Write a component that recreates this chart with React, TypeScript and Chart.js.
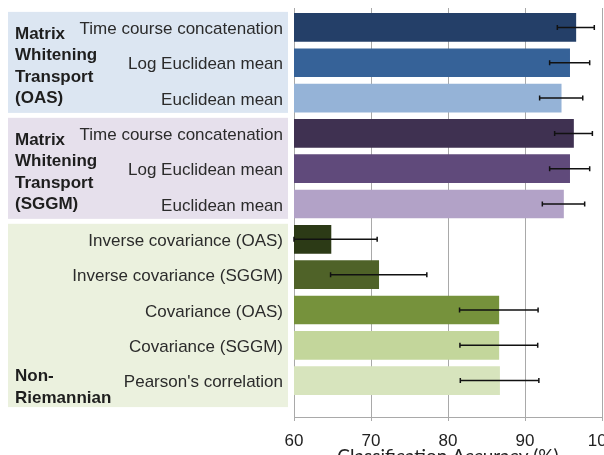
import React, { useEffect, useRef } from "react";
import { Chart, registerables } from "chart.js";

Chart.register(...registerables);

const categories = [
  "Time course concatenation",
  "Log Euclidean mean",
  "Euclidean mean",
  "Time course concatenation",
  "Log Euclidean mean",
  "Euclidean mean",
  "Inverse covariance (OAS)",
  "Inverse covariance (SGGM)",
  "Covariance (OAS)",
  "Covariance (SGGM)",
  "Pearson's correlation",
];
const accuracy = [96.6, 95.8, 94.7, 96.3, 95.8, 95.0, 64.8, 71.0, 86.6, 86.6, 86.7];
const errors = [2.4, 2.6, 2.8, 2.45, 2.6, 2.75, 6.0, 6.25, 5.1, 5.05, 5.1];
const barColors = [
  "#243f68", "#366298", "#95b3d7",
  "#3f3151", "#604a7b", "#b2a2c7",
  "#2c3a16", "#4f6228", "#76923c", "#c3d69b", "#d7e4bd",
];
const xTicks = [60, 70, 80, 90, 100];
const groupNames = [
  ["Matrix", "Whitening", "Transport", "(OAS)"],
  ["Matrix", "Whitening", "Transport", "(SGGM)"],
  ["Non-", "Riemannian"],
];
const groupFirst = [0, 3, 6];
const groupLast = [2, 5, 10];
const groupFill = ["#dce6f2", "#e6e0ec", "#ebf1de"];

const FONT = "'Liberation Sans', Arial, sans-serif";

const panelPlugin = {
  id: "panels",
  beforeDraw(chart: any) {
    const ctx = chart.ctx;
    const y = chart.scales.y;
    ctx.save();
    groupFirst.forEach((first, g) => {
      const top = y.getPixelForValue(first - 0.44);
      const bottom = g === 2 ? y.getPixelForValue(groupLast[g] + 0.75) : y.getPixelForValue(groupLast[g] + 0.42);
      ctx.fillStyle = groupFill[g];
      ctx.fillRect(8, top, 280, bottom - top);
    });
    ctx.restore();
  },
  afterDraw(chart: any) {
    const ctx = chart.ctx;
    const y = chart.scales.y;
    ctx.save();
    ctx.font = `bold 17px ${FONT}`;
    ctx.fillStyle = "#1e1e1e";
    ctx.textAlign = "left";
    ctx.textBaseline = "middle";
    groupNames.forEach((lines, g) => {
      if (g < 2) {
        const top = y.getPixelForValue(groupFirst[g] - 0.44);
        lines.forEach((t, k) => ctx.fillText(t, 15, top + 22 + k * 21.5));
      } else {
        const base = y.getPixelForValue(groupLast[g]) + 17.5;
        lines.forEach((t, k) => ctx.fillText(t, 15, base - (lines.length - 1 - k) * 21.5));
      }
    });
    ctx.restore();
  },
};

const errorBarPlugin = {
  id: "errorBars",
  afterDatasetsDraw(chart: any) {
    const ctx = chart.ctx;
    const xs = chart.scales.x;
    const ys = chart.scales.y;
    ctx.save();
    ctx.strokeStyle = "#111";
    ctx.lineWidth = 1.5;
    accuracy.forEach((v, i) => {
      const lo = Math.max(xs.min, v - errors[i]);
      const hi = v + errors[i];
      const x1 = xs.getPixelForValue(lo);
      const x2 = xs.getPixelForValue(hi);
      const yy = ys.getPixelForValue(i);
      ctx.beginPath();
      ctx.moveTo(x1, yy);
      ctx.lineTo(x2, yy);
      ctx.moveTo(x1, yy - 2.5);
      ctx.lineTo(x1, yy + 2.5);
      ctx.moveTo(x2, yy - 2.5);
      ctx.lineTo(x2, yy + 2.5);
      ctx.stroke();
    });
    ctx.restore();
  },
};

export default function App() {
  const ref = useRef<HTMLCanvasElement | null>(null);
  useEffect(() => {
    if (!ref.current) return;
    const chart = new Chart(ref.current, {
      type: "bar",
      data: {
        datasets: [
          {
            data: accuracy.map((v, i) => ({ x: v, y: i })),
            backgroundColor: barColors,
            borderWidth: 0,
            barThickness: 28,
          },
        ],
      },
      options: {
        indexAxis: "y",
        responsive: false,
        animation: false,
        layout: { padding: { top: 8, right: 2, left: 0, bottom: 0 } },
        plugins: { legend: { display: false }, tooltip: { enabled: false } },
        scales: {
          x: {
            type: "linear",
            position: "bottom",
            min: 60,
            max: 100,
            offset: false,
            afterBuildTicks: (s: any) => {
              s.ticks = xTicks.map((v) => ({ value: v }));
            },
            afterFit: (s: any) => {
              s.height = 63;
              s.paddingLeft = 0;
              s.paddingRight = 0;
            },
            grid: { color: "#a9a9a9", lineWidth: 1, tickLength: 4 },
            border: { color: "#a9a9a9", width: 1 },
            ticks: {
              font: { family: FONT, size: 17 },
              color: "#222",
              padding: 10,
              maxRotation: 0,
            },
            title: {
              display: true,
              text: "Classification Accuracy (%)",
              font: { family: "Lato, 'Liberation Sans', sans-serif", size: 19 },
              color: "#222",
              padding: { top: 0, bottom: 12 },
            },
          },
          y: {
            type: "linear",
            reverse: true,
            offset: false,
            min: -0.55,
            max: 11.03,
            afterBuildTicks: (s: any) => {
              s.ticks = categories.map((_, i) => ({ value: i }));
            },
            afterFit: (s: any) => {
              s.width = 294;
              s.paddingTop = 0;
              s.paddingBottom = 0;
            },
            grid: { display: false, drawTicks: false, offset: false },
            border: { display: true, color: "#a9a9a9", width: 1 },
            ticks: {
              callback: (v: any) => categories[v as number],
              font: { family: FONT, size: 17 },
              color: "#2b2b2b",
              padding: 11,
              labelOffset: 2,
            },
          },
        },
      },
      plugins: [panelPlugin, errorBarPlugin],
    } as any);
    return () => chart.destroy();
  }, []);
  return (
    <div style={{ position: "fixed", left: 0, top: 0, width: 604, height: 455, overflow: "hidden", background: "#fff" }}>
      <canvas ref={ref} width={604} height={480} style={{ display: "block" }} />
    </div>
  );
}
